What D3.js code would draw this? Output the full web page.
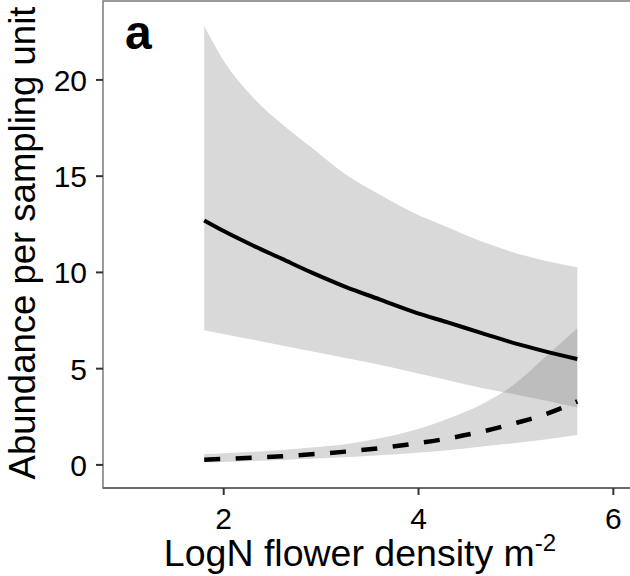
<!DOCTYPE html>
<html>
<head>
<meta charset="utf-8">
<script src="https://cdn.jsdelivr.net/npm/d3@7"></script>
<style>
  html, body { margin: 0; padding: 0; background: #fff; }
  svg { display: block; }
  text { font-family: "Liberation Sans", Arial, Helvetica, sans-serif; fill: #000; }
</style>
</head>
<body>
<svg id="chart" width="630" height="576"></svg>
<script>
// ---- data ----
const xVals      = [1.8, 2.0, 2.3, 2.6, 2.9, 3.25, 3.6, 3.95, 4.3, 4.65, 5.0, 5.3, 5.63];
const solidFit   = [12.7, 12.15, 11.4, 10.7, 10.0, 9.25, 8.6, 7.95, 7.4, 6.85, 6.3, 5.9, 5.5];
const solidLower = [7.0, 6.8, 6.5, 6.2, 5.9, 5.55, 5.2, 4.8, 4.4, 4.0, 3.65, 3.35, 2.98];
const solidUpper = [22.8, 21.0, 19.1, 17.7, 16.5, 15.1, 14.05, 13.1, 12.35, 11.6, 11.0, 10.6, 10.27];
const dashedFit   = [0.27, 0.31, 0.37, 0.45, 0.55, 0.69, 0.87, 1.1, 1.37, 1.73, 2.18, 2.63, 3.3];
const dashedLower = [0.12, 0.15, 0.2, 0.26, 0.32, 0.4, 0.5, 0.62, 0.76, 0.95, 1.14, 1.32, 1.55];
const dashedUpper = [0.57, 0.61, 0.68, 0.78, 0.9, 1.07, 1.38, 1.8, 2.4, 3.15, 4.25, 5.6, 7.1];
const xTicks = [2, 4, 6];
const yTicks = [0, 5, 10, 15, 20];
const panelLabel = "a";
const xTitle = "LogN flower density m";
const xTitleSup = "-2";
const yTitle = "Abundance per sampling unit";

// ---- layout ----
const svg = d3.select("#chart");
const pLeft = 103, pRight = 640, pTop = 1, pBottom = 488;

const x = d3.scaleLinear().domain([0.761, 6.171]).range([103, 630]);
const y = d3.scaleLinear().domain([-1.2, 24.1]).range([488, 1]);

const band = (lo, hi) => d3.area()
  .x((d, i) => x(xVals[i]))
  .y0((d, i) => y(lo[i]))
  .y1((d, i) => y(hi[i]))
  .curve(d3.curveMonotoneX)(xVals);
const line = (vals) => d3.line()
  .x((d, i) => x(xVals[i]))
  .y((d, i) => y(vals[i]))
  .curve(d3.curveMonotoneX)(xVals);

const g = svg.append("g");
g.append("rect").attr("x", pLeft).attr("y", pTop).attr("width", pRight - pLeft).attr("height", pBottom - pTop)
  .attr("fill", "#fff");

// ribbons
g.append("path").attr("d", band(solidLower, solidUpper))
  .attr("fill", "rgb(110,110,110)").attr("fill-opacity", 0.26);
g.append("path").attr("d", band(dashedLower, dashedUpper))
  .attr("fill", "rgb(110,110,110)").attr("fill-opacity", 0.26);

// lines
g.append("path").attr("d", line(solidFit))
  .attr("fill", "none").attr("stroke", "#000").attr("stroke-width", 4);
g.append("path").attr("d", line(dashedFit))
  .attr("fill", "none").attr("stroke", "#000").attr("stroke-width", 4.5)
  .attr("stroke-dasharray", "16,15.5");

// panel border
g.append("rect").attr("x", pLeft).attr("y", pTop).attr("width", pRight - pLeft).attr("height", pBottom - pTop)
  .attr("fill", "none").attr("stroke", "#7a7a7a").attr("stroke-width", 1.5);
g.append("line").attr("x1", pLeft).attr("x2", pRight).attr("y1", pBottom).attr("y2", pBottom)
  .attr("stroke", "#6a6a6a").attr("stroke-width", 2);

// y ticks
yTicks.forEach(v => {
  g.append("line").attr("x1", pLeft - 7).attr("x2", pLeft).attr("y1", y(v)).attr("y2", y(v))
    .attr("stroke", "#333").attr("stroke-width", 2);
  g.append("text").attr("x", pLeft - 16).attr("y", y(v) + 11)
    .attr("text-anchor", "end").attr("font-size", 30).text(v);
});
// x ticks
xTicks.forEach(v => {
  g.append("line").attr("x1", x(v)).attr("x2", x(v)).attr("y1", pBottom).attr("y2", pBottom + 7)
    .attr("stroke", "#333").attr("stroke-width", 2);
  g.append("text").attr("x", x(v)).attr("y", 529)
    .attr("text-anchor", "middle").attr("font-size", 30).text(v);
});

// panel label
g.append("text").attr("x", 125).attr("y", 49)
  .attr("font-size", 48).attr("font-weight", "bold").text(panelLabel);

// axis titles
const xt = g.append("text").attr("x", 360).attr("y", 566)
  .attr("text-anchor", "middle").attr("font-size", 37.5);
xt.append("tspan").text(xTitle);
xt.append("tspan").attr("font-size", 24).attr("dy", -15).text(xTitleSup);

g.append("text").attr("transform", "translate(35,243) rotate(-90)")
  .attr("text-anchor", "middle").attr("font-size", 36.5).text(yTitle);
</script>
</body>
</html>
